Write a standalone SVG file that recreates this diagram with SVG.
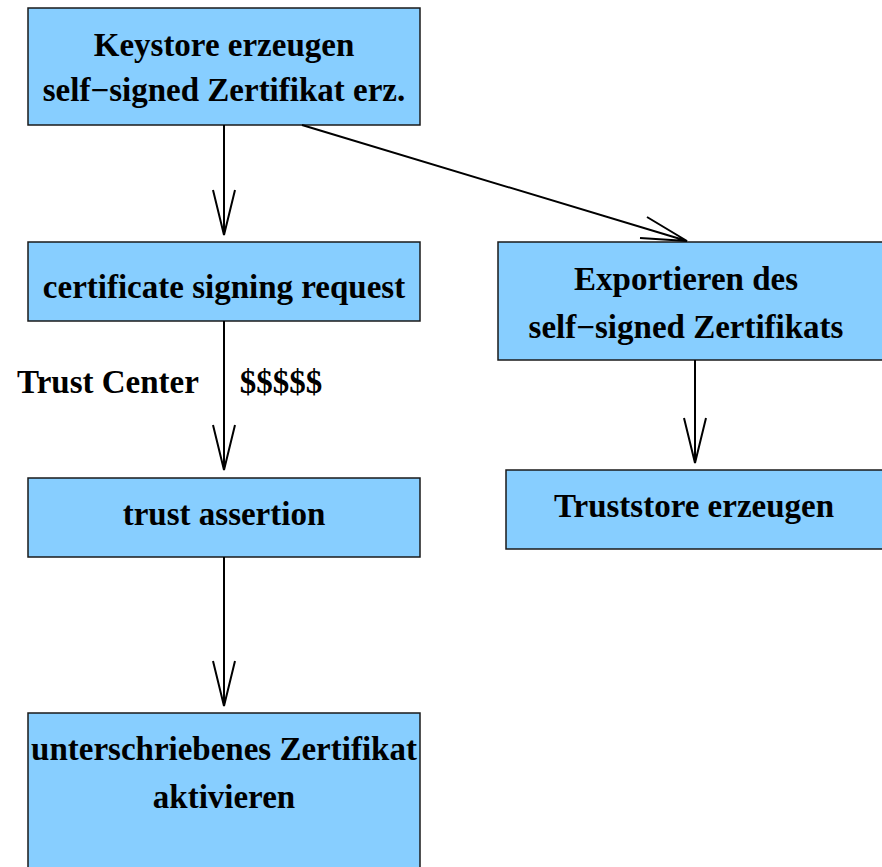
<svg xmlns="http://www.w3.org/2000/svg" width="882" height="867" viewBox="0 0 882 867">
<style>
.box{fill:#87CEFF;stroke:#1a1a1a;stroke-width:1.5}
.t{font-family:"Liberation Serif","Times New Roman",serif;font-weight:bold;font-size:33px;fill:#000;text-anchor:middle}
.c{fill:none;stroke:#000;stroke-width:2}
</style>
<rect width="882" height="867" fill="#fff"/>
<g id="n1"><rect class="box" x="28" y="8" width="392" height="117"/><text class="t" x="224" y="56">Keystore erzeugen</text><text class="t" x="224" y="101">self−signed Zertifikat erz.</text></g>
<g id="n2"><rect class="box" x="28" y="242" width="392" height="79"/><text class="t" x="224" y="298">certificate signing request</text></g>
<g id="n3"><rect class="box" x="28" y="478" width="392" height="79"/><text class="t" x="224" y="525">trust assertion</text></g>
<g id="n4"><rect class="box" x="28" y="713" width="392" height="170"/><text class="t" x="224" y="760">unterschriebenes Zertifikat</text><text class="t" x="224" y="808">aktivieren</text></g>
<g id="n5"><rect class="box" x="498" y="242" width="400" height="118"/><text class="t" x="686" y="290">Exportieren des</text><text class="t" x="686" y="338">self−signed Zertifikats</text></g>
<g id="n6"><rect class="box" x="506" y="470" width="392" height="79"/><text class="t" x="694" y="517">Truststore erzeugen</text></g>
<g id="labels"><text class="t" x="108" y="393">Trust Center</text><text class="t" x="281" y="393">$$$$$</text></g>
<g id="connectors">
<path class="c" d="M224 125V235M213 190L224 235L235 190"/>
<path class="c" d="M224 321V470M213 425L224 470L235 425"/>
<path class="c" d="M224 557V706M213 661L224 706L235 661"/>
<path class="c" d="M695 360V463M684 418L695 463L706 418"/>
<path class="c" d="M302 125L687 241M647 217L687 241L640 238"/>
</g>
</svg>
